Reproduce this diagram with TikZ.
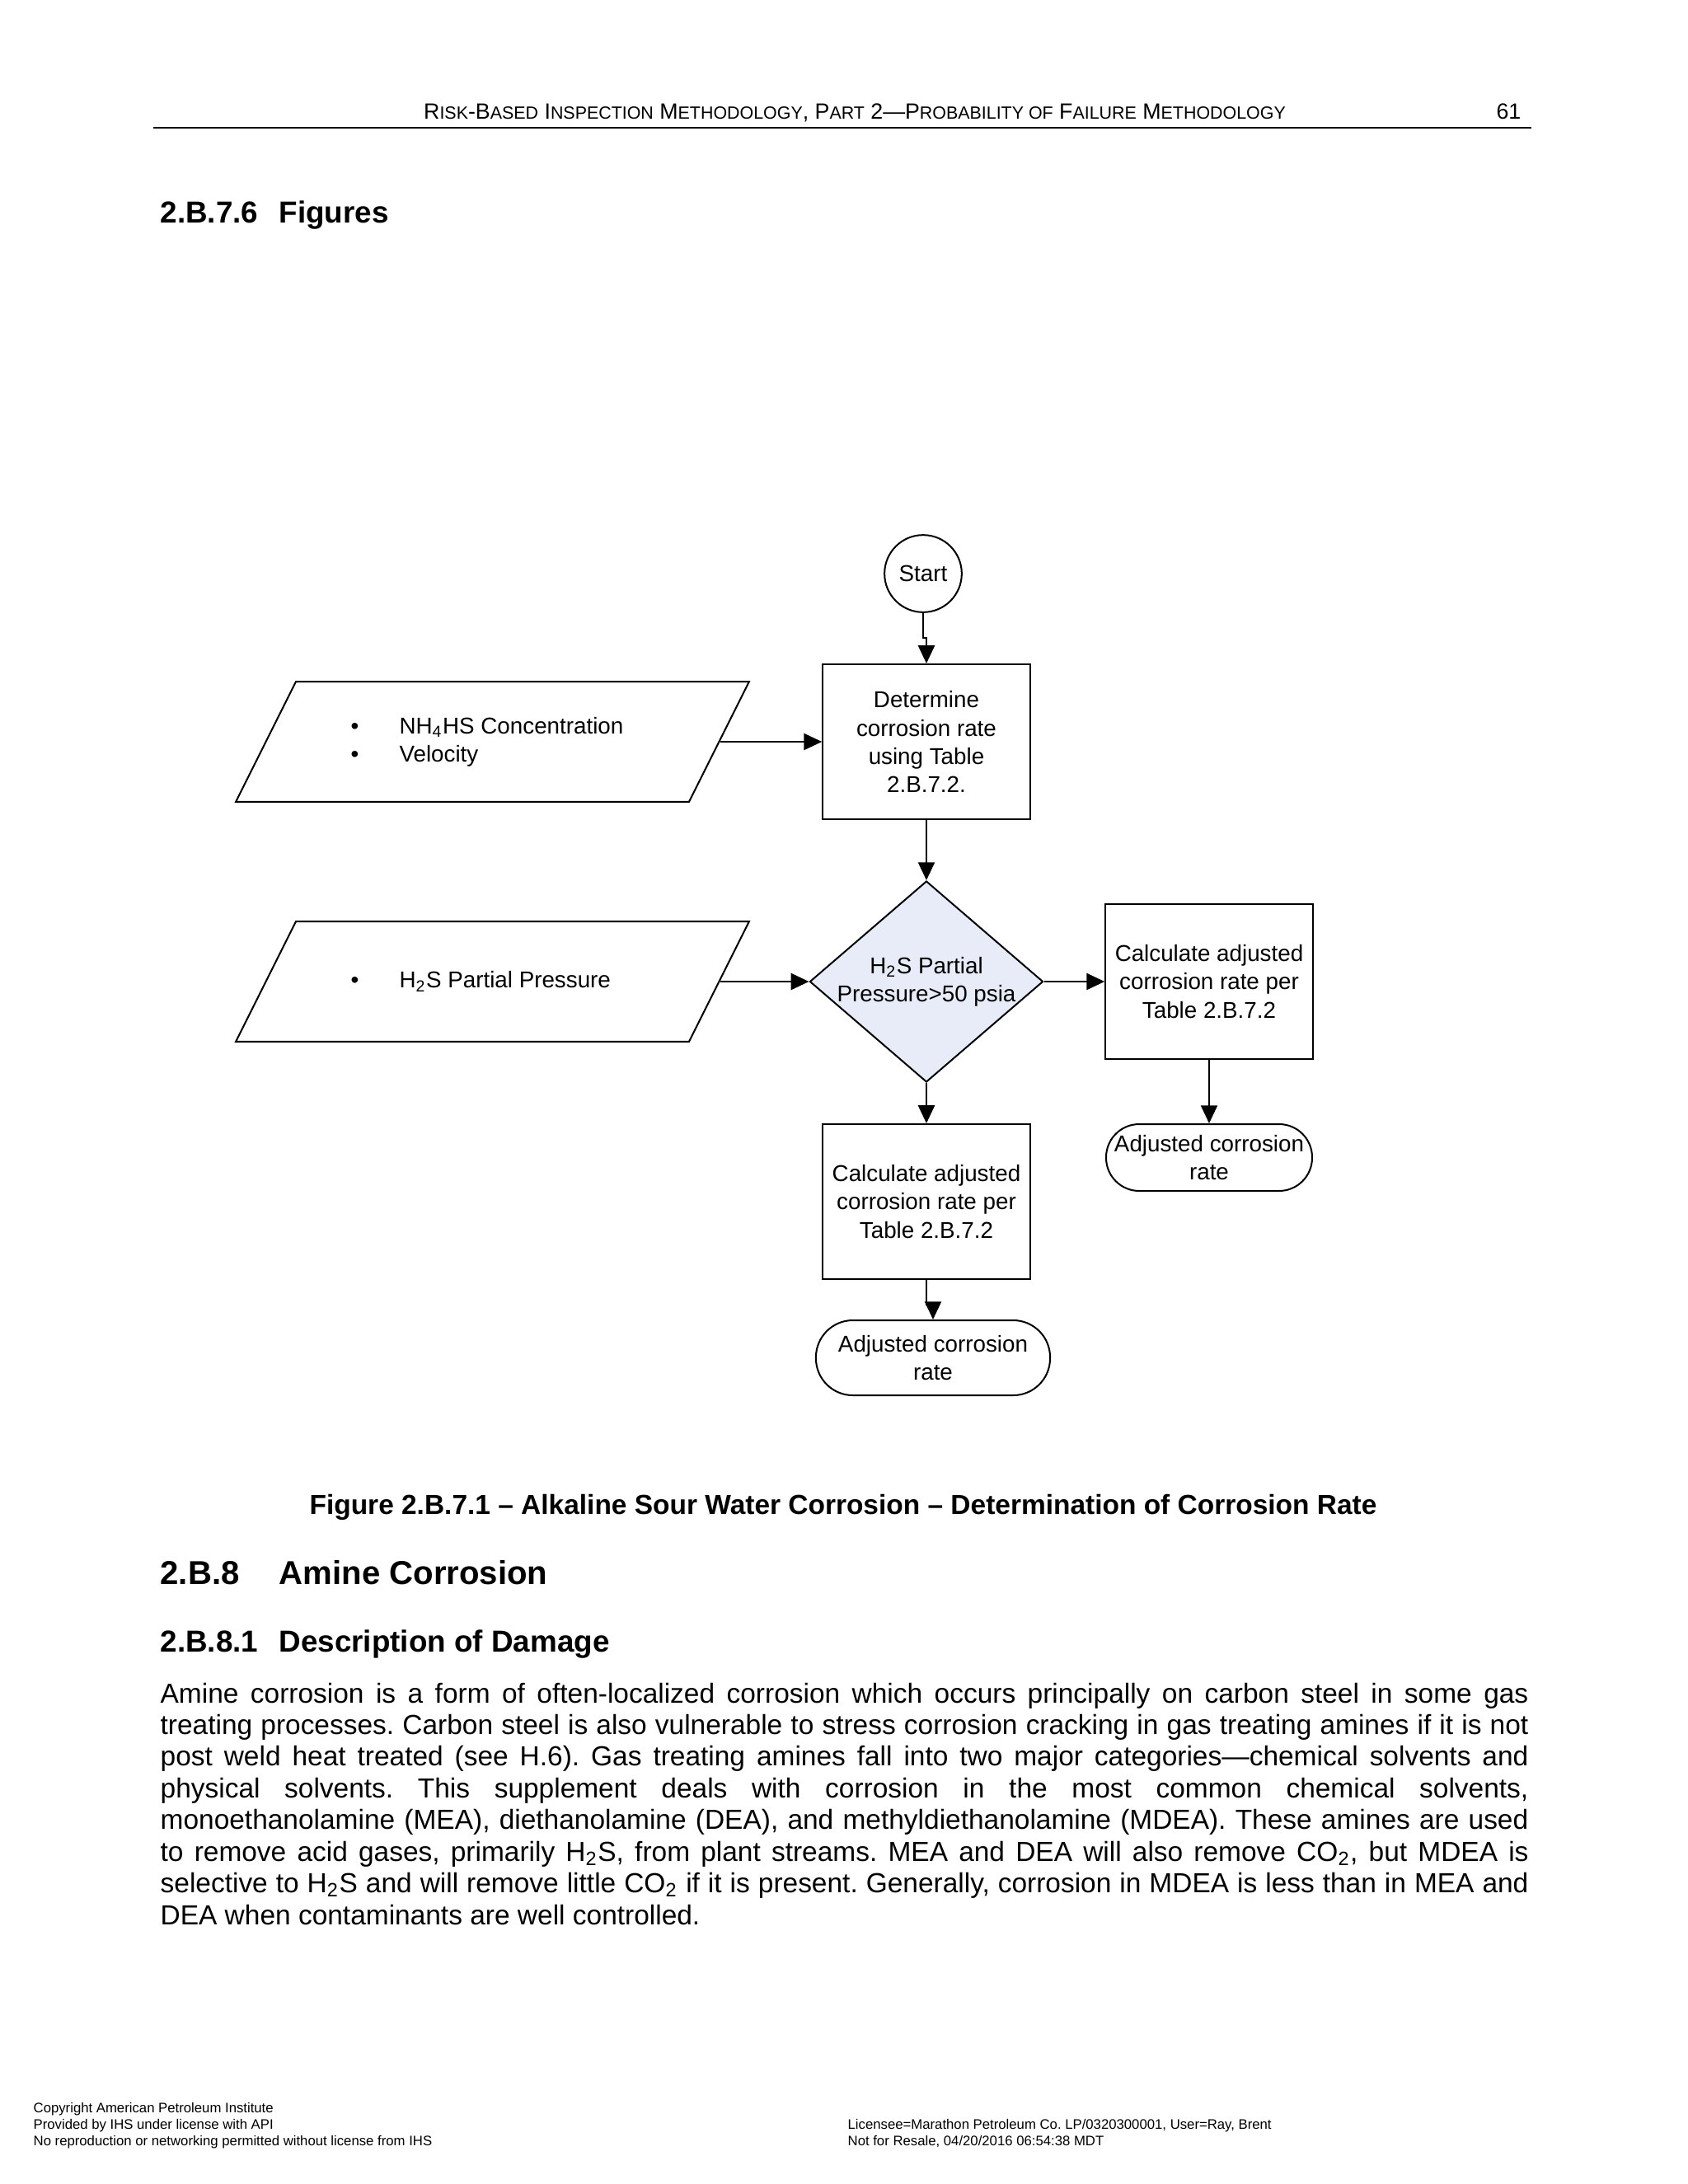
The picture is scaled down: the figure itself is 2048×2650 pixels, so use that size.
\documentclass[tikz,border=0pt]{standalone}
\usepackage{fontspec}
\setmainfont{Liberation Sans}
\usetikzlibrary{shapes.geometric,arrows.meta}
\definecolor{diafill}{RGB}{232,236,248}
\newcommand\hsm[1]{{\fontsize{6.4}{8}\selectfont #1}}
\newcommand\bul{\makebox[17.6pt][l]{\textbullet}}
\newcommand\iobody{\rule{142.5pt}{0pt}\rule{0pt}{43.6pt}}
\frenchspacing
\begin{document}
\begin{tikzpicture}[x=0.29883pt,y=-0.29883pt,
  every node/.style={inner sep=0pt},
  dg/.style={font=\fontsize{8.3}{10.2}\selectfont, align=center},
  shp/.style={draw, line width=0.6pt, dg},
  proc/.style={shp, rectangle, minimum width=75.2pt, minimum height=56.2pt},
  term/.style={shp, rectangle, rounded corners=12pt},
  io/.style={draw, line width=0.6pt, trapezium, trapezium left angle=63.43, trapezium right angle=116.57},
  arr/.style={line width=0.6pt, -{Triangle[length=6.5pt,width=6pt]}},
  h1/.style={font=\fontsize{12}{14}\selectfont\bfseries, anchor=base west},
  h2/.style={font=\fontsize{11}{13}\selectfont\bfseries, anchor=base west},
  foot/.style={font=\fontsize{5}{6}\selectfont, anchor=base west}
]
\fill[white] (0,0) rectangle (2048,2650);
\useasboundingbox (0,0) rectangle (2048,2650);

% header
\node[font=\fontsize{8}{10}\selectfont, anchor=base] (hdr) at (1037,144)
  {R\hsm{ISK}-B\hsm{ASED} I\hsm{NSPECTION} M\hsm{ETHODOLOGY}, P\hsm{ART} 2—P\hsm{ROBABILITY OF} F\hsm{AILURE} M\hsm{ETHODOLOGY}};
\node[font=\fontsize{8}{10}\selectfont, anchor=base east] (pg) at (1846,144) {61};
\draw[line width=0.75pt] (186,155) -- (1858,155);

\node[h2] (h276n) at (194,270) {2.B.7.6};
\node[h2] (h276t) at (338,270) {Figures};

% flowchart
\node[shp, circle, minimum size=28pt] (start) at (1120,696) {Start};
\node[proc] (det) at (1124,900) {Determine\\corrosion rate\\using Table\\2.B.7.2.};
\node[io] (p1) at (597.5,900) {\iobody};
\node[dg, align=left, anchor=west] (p1t) at (425,900) {\bul NH\textsubscript{4}HS Concentration\\\bul Velocity};
\node[io] (p2) at (597.5,1191) {\iobody};
\node[dg, align=left, anchor=west] (p2t) at (425,1191) {\bul H\textsubscript{2}S Partial Pressure};
\node[draw, line width=0.6pt, fill=diafill, diamond, minimum width=84.6pt, minimum height=72.9pt] (dia) at (1124,1191) {};
\node[dg] (diat) at (1124,1191) {H\textsubscript{2}S Partial\\Pressure>50 psia};
\node[proc] (rbox) at (1467,1191) {Calculate adjusted\\corrosion rate per\\Table 2.B.7.2};
\node[term, minimum width=74.7pt, minimum height=24.2pt] (rterm) at (1467,1404.5) {Adjusted corrosion\\rate};
\node[proc] (bbox) at (1124,1458) {Calculate adjusted\\corrosion rate per\\Table 2.B.7.2};
\node[term, rounded corners=13.4pt, minimum width=84.9pt, minimum height=27.2pt] (bterm) at (1132,1647.5) {Adjusted corrosion\\rate};

\draw[arr] (start.south) -- ++(0,30) -| (det.north);
\draw[arr] (p1.right side) -- (det.west);
\draw[arr] (det.south) -- (dia.north);
\draw[arr] (p2.right side) -- (dia.west);
\draw[arr] (dia.east) -- (rbox.west);
\draw[arr] (dia.south) -- (bbox.north);
\draw[arr] (rbox.south) -- (rterm.north);
\draw[arr] (bbox.south) -- ++(0,30) -| (bterm.north);

% caption and text
\node[font=\fontsize{10}{12}\selectfont\bfseries, anchor=base] (cap) at (1023,1837)
  {Figure 2.B.7.1 – Alkaline Sour Water Corrosion – Determination of Corrosion Rate};
\node[h1] (h28n) at (194,1922) {2.B.8};
\node[h1] (h28t) at (338,1922) {Amine Corrosion};
\node[h2] (h281n) at (194,2004) {2.B.8.1};
\node[h2] (h281t) at (338,2004) {Description of Damage};
\node[anchor=base west, font=\fontsize{10}{11.5}\selectfont] (body) at (194,2066)
  {\parbox[t]{496pt}{\emergencystretch=2em
  Amine corrosion is a form of often-localized corrosion which occurs principally on carbon steel in some gas\linebreak
  treating processes. Carbon steel is also vulnerable to stress corrosion cracking in gas treating amines if it is not\linebreak
  post weld heat treated (see H.6). Gas treating amines fall into two major categories—chemical solvents and\linebreak
  physical solvents. This supplement deals with corrosion in the most common chemical solvents,\linebreak
  monoethanolamine (MEA), diethanolamine (DEA), and methyldiethanolamine (MDEA). These amines are used\linebreak
  to remove acid gases, primarily H\textsubscript{2}S, from plant streams. MEA and DEA will also remove CO\textsubscript{2}, but MDEA is\linebreak
  selective to H\textsubscript{2}S and will remove little CO\textsubscript{2} if it is present. Generally, corrosion in MDEA is less than in MEA and\linebreak
  DEA when contaminants are well controlled.}};

% footer
\node[foot] (f1) at (40,2563) {Copyright American Petroleum Institute};
\node[foot] (f2) at (40,2583) {Provided by IHS under license with API};
\node[foot] (f3) at (40,2603) {No reproduction or networking permitted without license from IHS};
\node[foot] (f4) at (1028,2583) {Licensee=Marathon Petroleum Co. LP/0320300001, User=Ray, Brent};
\node[foot] (f5) at (1028,2603) {Not for Resale, 04/20/2016 06:54:38 MDT};
\end{tikzpicture}
\end{document}
